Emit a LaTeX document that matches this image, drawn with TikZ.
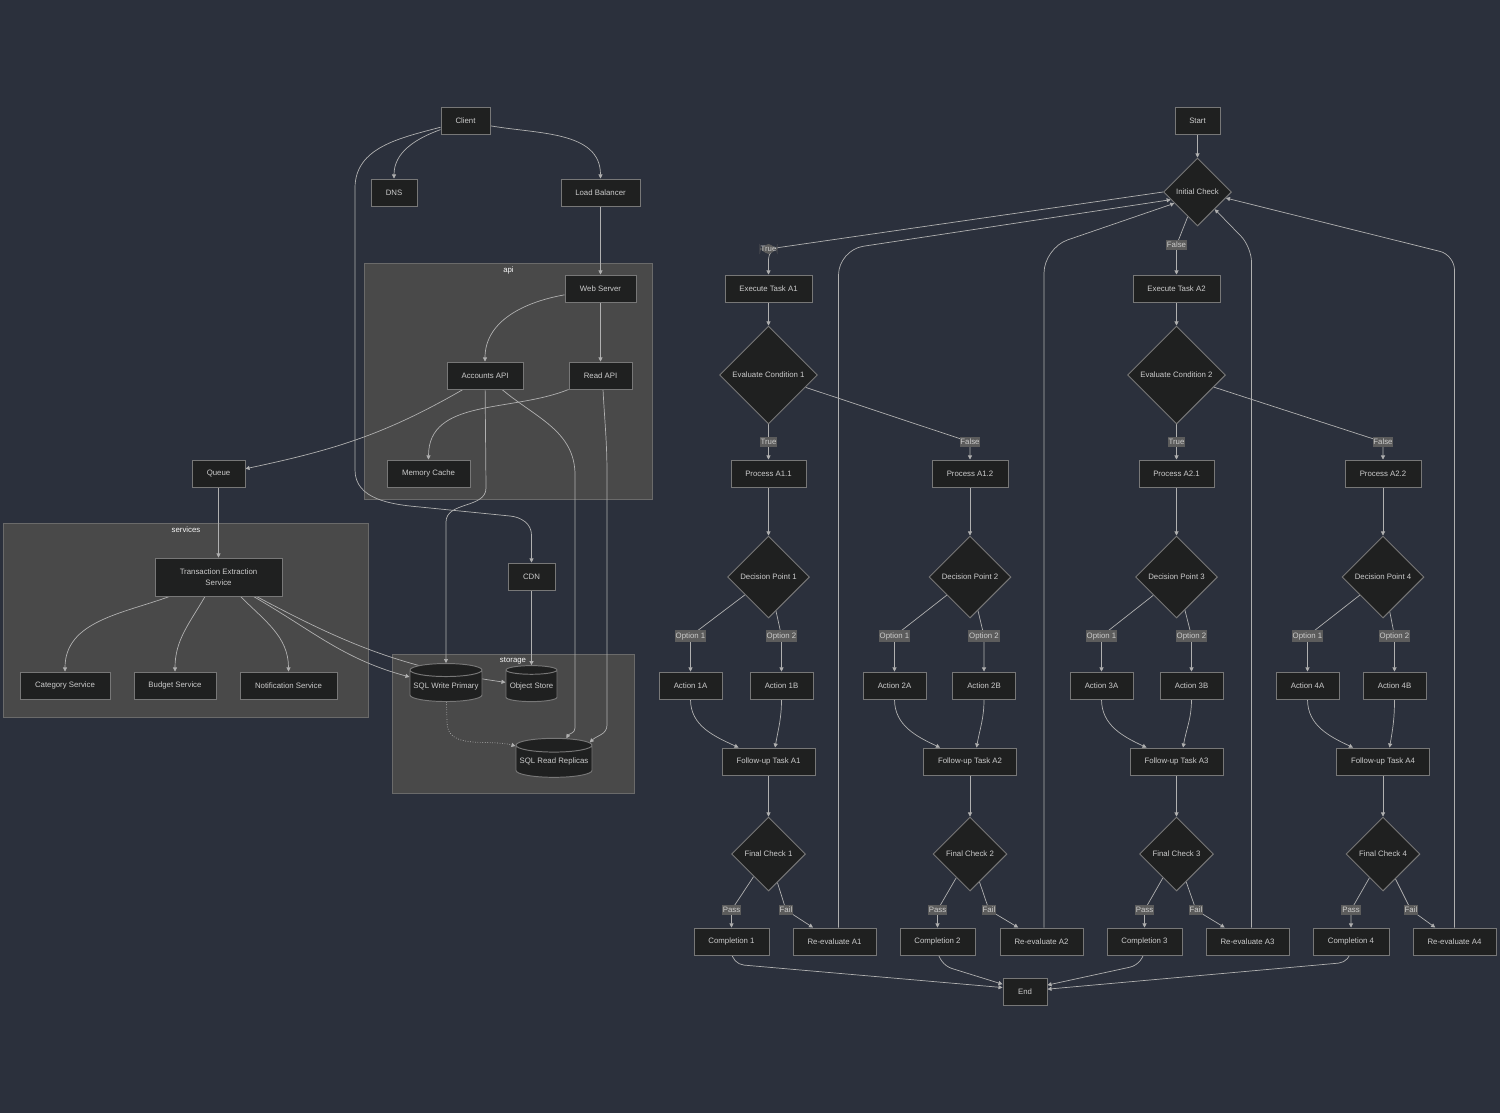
\documentclass[tikz,border=0pt]{standalone}
\usepackage{fontspec}
\setmainfont{Liberation Sans}
\usetikzlibrary{shapes.geometric,arrows.meta}
\definecolor{bgdark}{HTML}{2B303C}
\definecolor{nodefill}{HTML}{1F2020}
\definecolor{nodeline}{HTML}{777777}
\definecolor{nodetext}{HTML}{CCCCCC}
\definecolor{edgeline}{HTML}{B0B0B0}
\definecolor{clusterfill}{HTML}{494949}
\definecolor{clusterline}{HTML}{6A6A6A}
\definecolor{labelfill}{HTML}{5C5C5C}
\pgfdeclarelayer{bg}
\pgfdeclarelayer{edges}
\pgfsetlayers{bg,edges,main}
\begin{document}
\begin{tikzpicture}[
		x=0.02cm, y=-0.02cm,
		font=\fontsize{4.45}{6.26}\selectfont,
		box/.style={draw=nodeline, fill=nodefill, text=nodetext, rectangle, line width=0.55pt, minimum height=0.54cm, inner sep=0pt, align=center},
		dec/.style={draw=nodeline, fill=nodefill, text=nodetext, diamond, aspect=1, line width=0.55pt, inner sep=0pt},
		db/.style={draw=nodeline, fill=nodefill, text=nodetext, cylinder, shape border rotate=90, aspect=0.2, line width=0.55pt, inner sep=0pt},
		cluster/.style={draw=clusterline, fill=clusterfill, line width=0.55pt, inner sep=0pt},
		clabel/.style={text=white!94!gray, anchor=north, inner sep=2pt},
		elabel/.style={fill=labelfill, text=nodetext, inner xsep=0.5pt, inner ysep=1.2pt},
		arrow/.style={-{Triangle[length=2.3pt, width=2.3pt]}, draw=edgeline, line width=0.4pt},
	]
	\useasboundingbox (0,0) rectangle (1500,1113);

	\begin{pgfonlayer}{bg}
		\fill[bgdark] (0,0) rectangle (1500,1113);
		\node[cluster, minimum width=5.78cm, minimum height=4.72cm, label={[clabel]north:api}] (api) at (508.5,381) {};
		\node[cluster, minimum width=7.32cm, minimum height=3.88cm, label={[clabel]north:services}] (services) at (186,620) {};
		\node[cluster, minimum width=4.84cm, minimum height=2.78cm, label={[clabel]north:storage}] (storage) at (513,723.5) {};
	\end{pgfonlayer}

	\node[box, minimum width=0.98cm] (client) at (465.5,120.5) {Client};
	\node[box, minimum width=0.92cm] (dns)    at (394,192.5)   {DNS};
	\node[box, minimum width=1.58cm] (lb)     at (600.5,192.5) {Load Balancer};
	\node[box, minimum width=1.42cm] (web)    at (600.5,288.5) {Web Server};
	\node[box, minimum width=1.52cm] (acc)    at (485,375.5)   {Accounts API};
	\node[box, minimum width=1.26cm] (rapi)   at (600.5,375.5) {Read API};
	\node[box, minimum width=1.66cm] (mcache) at (428.5,473.5) {Memory Cache};
	\node[box, minimum width=1.06cm] (queue)  at (218.5,473.5) {Queue};
	\node[box, minimum width=2.54cm, minimum height=0.76cm] (tes) at (218.5,577) {Transaction Extraction\\Service};
	\node[box, minimum width=1.80cm] (cat)    at (65,685.5)    {Category Service};
	\node[box, minimum width=1.64cm] (bud)    at (175,685.5)   {Budget Service};
	\node[box, minimum width=1.94cm] (notif)  at (288.5,685.5) {Notification Service};
	\node[box, minimum width=0.94cm] (cdn)    at (531.5,576.5) {CDN};
	\node[db, minimum width=1.44cm, minimum height=0.76cm] (sqlw) at (446,686)   {SQL Write Primary};
	\node[db, minimum width=1.02cm, minimum height=0.72cm] (objs) at (531.5,686) {Object Store};
	\node[db, minimum width=1.52cm, minimum height=0.78cm] (sqlr) at (554,761.5) {SQL Read Replicas};

	\node[box, minimum width=0.90cm] (start) at (1197.5,120.5) {Start};
	\node[dec, minimum size=1.36cm]  (ichk)  at (1197.5,192)   {Initial Check};
	\node[box, minimum width=1.74cm] (exA1)  at (768.5,288.5)  {Execute Task A1};
	\node[box, minimum width=1.74cm] (exA2)  at (1176.5,288.5) {Execute Task A2};
	\node[dec, minimum size=1.96cm]  (evc1)  at (768.5,375)    {Evaluate Condition 1};
	\node[dec, minimum size=1.96cm]  (evc2)  at (1176.5,375)   {Evaluate Condition 2};
	\node[box, minimum width=1.50cm] (pA11)  at (768.5,473.5)  {Process A1.1};
	\node[box, minimum width=1.52cm] (pA12)  at (970,473.5)    {Process A1.2};
	\node[box, minimum width=1.50cm] (pA21)  at (1176.5,473.5) {Process A2.1};
	\node[box, minimum width=1.52cm] (pA22)  at (1383,473.5)   {Process A2.2};
	\node[dec, minimum size=1.64cm]  (dp1)   at (768.5,577)    {Decision Point 1};
	\node[dec, minimum size=1.64cm]  (dp2)   at (970,577)      {Decision Point 2};
	\node[dec, minimum size=1.64cm]  (dp3)   at (1176.5,577)   {Decision Point 3};
	\node[dec, minimum size=1.64cm]  (dp4)   at (1383,577)     {Decision Point 4};
	\node[box, minimum width=1.26cm] (act1a) at (690.5,685.5)  {Action 1A};
	\node[box, minimum width=1.26cm] (act1b) at (781.5,685.5)  {Action 1B};
	\node[box, minimum width=1.26cm] (act2a) at (894.5,685.5)  {Action 2A};
	\node[box, minimum width=1.26cm] (act2b) at (984,685.5)    {Action 2B};
	\node[box, minimum width=1.26cm] (act3a) at (1101.5,685.5) {Action 3A};
	\node[box, minimum width=1.26cm] (act3b) at (1191.5,685.5) {Action 3B};
	\node[box, minimum width=1.26cm] (act4a) at (1307.5,685.5) {Action 4A};
	\node[box, minimum width=1.26cm] (act4b) at (1394.5,685.5) {Action 4B};
	\node[box, minimum width=1.86cm] (fu1)   at (768.5,761.5)  {Follow-up Task A1};
	\node[box, minimum width=1.86cm] (fu2)   at (970,761.5)    {Follow-up Task A2};
	\node[box, minimum width=1.86cm] (fu3)   at (1176.5,761.5) {Follow-up Task A3};
	\node[box, minimum width=1.86cm] (fu4)   at (1383,761.5)   {Follow-up Task A4};
	\node[dec, minimum size=1.48cm]  (fc1)   at (768.5,854)    {Final Check 1};
	\node[dec, minimum size=1.48cm]  (fc2)   at (970,854)      {Final Check 2};
	\node[dec, minimum size=1.48cm]  (fc3)   at (1176.5,854)   {Final Check 3};
	\node[dec, minimum size=1.48cm]  (fc4)   at (1383,854)     {Final Check 4};
	\node[box, minimum width=1.50cm] (comp1) at (731.5,941.5)  {Completion 1};
	\node[box, minimum width=1.50cm] (comp2) at (937.5,941.5)  {Completion 2};
	\node[box, minimum width=1.50cm] (comp3) at (1144.5,941.5) {Completion 3};
	\node[box, minimum width=1.52cm] (comp4) at (1351,941.5)   {Completion 4};
	\node[box, minimum width=1.66cm] (reev1) at (834.5,941.5)  {Re-evaluate A1};
	\node[box, minimum width=1.66cm] (reev2) at (1041.5,941.5) {Re-evaluate A2};
	\node[box, minimum width=1.66cm] (reev3) at (1247.5,941.5) {Re-evaluate A3};
	\node[box, minimum width=1.66cm] (reev4) at (1454.5,941.5) {Re-evaluate A4};
	\node[box, minimum width=0.88cm] (stop)  at (1025,991.5)   {End};

	\begin{pgfonlayer}{edges}
		\draw[arrow] (client.200) to[out=200,in=90] (dns.north);
		\draw[arrow] (client.-12) to[out=-10,in=90] (lb.north);
		\draw[arrow] (client.195) to[out=195,in=90] (355,188) -- (355,470) to[out=-90,in=175] (420,507) -- (510,516) to[out=-5,in=90] (531.5,535) -- (cdn);
		\draw[arrow] (lb) -- (web);
		\draw[arrow] (web.190) to[out=190,in=90] (acc.north);
		\draw[arrow] (web) -- (rapi);
		\draw[arrow] ([xshift=-0.44cm]acc.south) to[out=-150,in=12] (queue.10);
		\draw[arrow] (acc) -- (486,488) to[out=-90,in=90] (446,522) -- (sqlw);
		\draw[arrow] ([xshift=0.34cm]acc.south) to[out=-40,in=90] (575,475) -- (575,728) to[out=-90,in=60] (sqlr.62);
		\draw[arrow] (rapi.south west) to[out=-158,in=90] (mcache.north);
		\draw[arrow] ([xshift=0.05cm]rapi.south) to[out=-87,in=90] (607,475) -- (607,725) to[out=-90,in=45] (sqlr.28);
		\draw[arrow] (queue) -- (tes);
		\draw[arrow] ([xshift=-0.98cm]tes.south) to[out=-160,in=90] (cat.north);
		\draw[arrow] ([xshift=-0.27cm]tes.south) to[out=-120,in=90] (bud.north);
		\draw[arrow] ([xshift=0.44cm]tes.south) to[out=-45,in=90] (notif.north);
		\draw[arrow] ([xshift=0.70cm]tes.south) to[out=-30,in=165] (sqlw.166);
		\draw[arrow] ([xshift=0.76cm]tes.south) to[out=-28,in=172] (objs.172);
		\draw[arrow, densely dotted] (sqlw) -- (447,722) to[out=-90,in=165] (sqlr.158);
		\draw[arrow] (cdn) -- (objs);

		\draw[arrow] (start) -- (ichk);
		\draw[arrow, rounded corners=0.2cm] (ichk.west) -- (768.5,249) node[elabel] {True} -- (exA1);
		\draw[arrow] (ichk) -- (1176.5,245) node[elabel] {False} -- (exA2);
		\draw[arrow] (exA1) -- (evc1);
		\draw[arrow] (exA2) -- (evc2);
		\draw[arrow] (evc1) -- (768.5,442) node[elabel] {True} -- (pA11);
		\draw[arrow] (evc1) -- (970,442) node[elabel] {False} -- (pA12);
		\draw[arrow] (evc2) -- (1176.5,442) node[elabel] {True} -- (pA21);
		\draw[arrow] (evc2) -- (1383,442) node[elabel] {False} -- (pA22);
		\draw[arrow] (pA11) -- (dp1);
		\draw[arrow] (pA12) -- (dp2);
		\draw[arrow] (pA21) -- (dp3);
		\draw[arrow] (pA22) -- (dp4);

		\draw[arrow] (dp1) -- (690.5,636) node[elabel] {Option 1} -- (act1a);
		\draw[arrow] (dp1) -- (781.5,636) node[elabel] {Option 2} -- (act1b);
		\draw[arrow] (dp2) -- (894.5,636) node[elabel] {Option 1} -- (act2a);
		\draw[arrow] (dp2) -- (984,636) node[elabel] {Option 2} -- (act2b);
		\draw[arrow] (dp3) -- (1101.5,636) node[elabel] {Option 1} -- (act3a);
		\draw[arrow] (dp3) -- (1191.5,636) node[elabel] {Option 2} -- (act3b);
		\draw[arrow] (dp4) -- (1307.5,636) node[elabel] {Option 1} -- (act4a);
		\draw[arrow] (dp4) -- (1394.5,636) node[elabel] {Option 2} -- (act4b);

		\draw[arrow] (act1a) to[out=-90,in=155] (fu1);
		\draw[arrow] (act1b) to[out=-90,in=80] (fu1.65);
		\draw[arrow] (act2a) to[out=-90,in=155] (fu2);
		\draw[arrow] (act2b) to[out=-90,in=80] (fu2.65);
		\draw[arrow] (act3a) to[out=-90,in=155] (fu3);
		\draw[arrow] (act3b) to[out=-90,in=80] (fu3.65);
		\draw[arrow] (act4a) to[out=-90,in=155] (fu4);
		\draw[arrow] (act4b) to[out=-90,in=80] (fu4.65);
		\draw[arrow] (fu1) -- (fc1);
		\draw[arrow] (fu2) -- (fc2);
		\draw[arrow] (fu3) -- (fc3);
		\draw[arrow] (fu4) -- (fc4);

		\draw[arrow] (fc1) -- (731.5,910) node[elabel] {Pass} -- (comp1);
		\draw[arrow] (fc1) -- (786,910) node[elabel] {Fail} -- (reev1);
		\draw[arrow] (fc2) -- (937.5,910) node[elabel] {Pass} -- (comp2);
		\draw[arrow] (fc2) -- (989,910) node[elabel] {Fail} -- (reev2);
		\draw[arrow] (fc3) -- (1144.5,910) node[elabel] {Pass} -- (comp3);
		\draw[arrow] (fc3) -- (1196,910) node[elabel] {Fail} -- (reev3);
		\draw[arrow] (fc4) -- (1351,910) node[elabel] {Pass} -- (comp4);
		\draw[arrow] (fc4) -- (1411,910) node[elabel] {Fail} -- (reev4);

		\draw[arrow, rounded corners=0.5cm] ([xshift=0.08cm]reev1.north) -- (838.5,250) -- (ichk.196);
		\draw[arrow, rounded corners=0.5cm] ([xshift=0.05cm]reev2.north) -- (1044,248) -- (ichk.206);
		\draw[arrow, rounded corners=0.3cm] ([xshift=0.08cm]reev3.north) -- (1251.5,247) -- (ichk.-45);
		\draw[arrow, rounded corners=0.3cm] (reev4.north) -- (1454.5,255) -- (ichk.-12);

		\draw[arrow, rounded corners=0.25cm] (comp1.south) -- (731.5,964) -- (stop.170);
		\draw[arrow, rounded corners=0.3cm] (comp2.south) -- (937.5,964) -- (stop.162);
		\draw[arrow, rounded corners=0.3cm] (comp3.south) -- (1144.5,964) -- (stop.16);
		\draw[arrow, rounded corners=0.25cm] (comp4.south) -- (1351,962) -- (stop.6);
	\end{pgfonlayer}
\end{tikzpicture}
\end{document}
